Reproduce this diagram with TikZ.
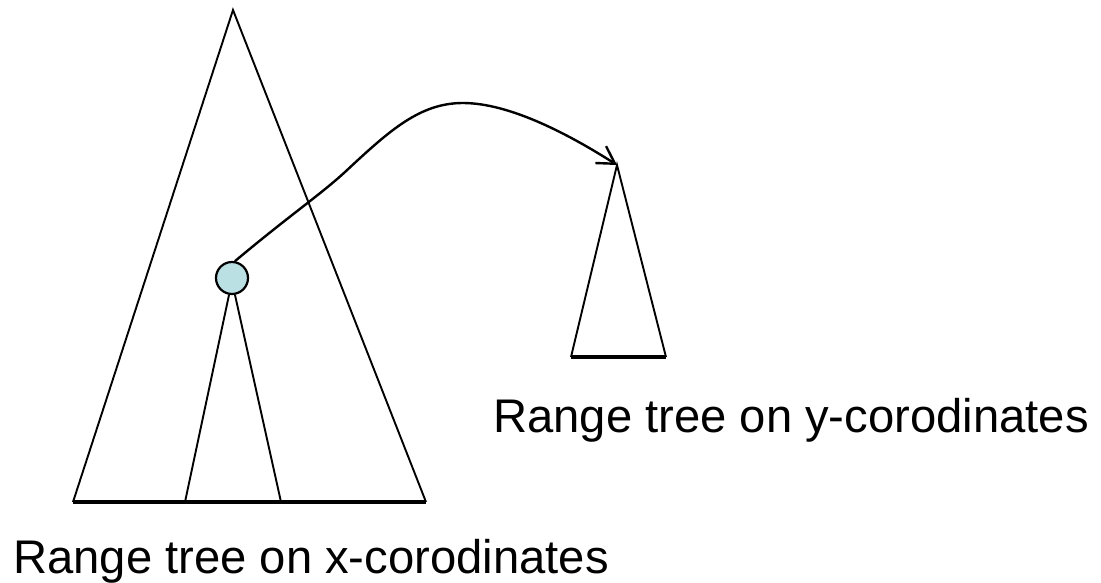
\documentclass[tikz,border=0pt]{standalone}
\usepackage{fontspec}
\setmainfont{Liberation Sans}
\usetikzlibrary{arrows.meta}
\definecolor{nodefill}{RGB}{186,224,228}
\begin{document}
\begin{tikzpicture}[x=1pt,y=-1pt,
  side/.style={line width=1.9pt},
  baseline/.style={line width=3.2pt},
  link/.style={line width=2.4pt,-{Straight Barb[length=17pt,width=20pt]}},
  treelabel/.style={anchor=base west, inner sep=0pt, font=\fontsize{47.2}{50}\selectfont},
  treenode/.style={circle, draw, fill=nodefill, minimum size=32pt, inner sep=0pt, line width=2.2pt}]
\useasboundingbox (0,0) rectangle (1101,582);
% big tree
\coordinate (A) at (233,10);
\coordinate (BL) at (73,502);
\coordinate (BR) at (426,502);
\coordinate (IL) at (185,502);
\coordinate (IR) at (281,502);
% small tree
\coordinate (S) at (617,165);
\coordinate (SL) at (571,357);
\coordinate (SR) at (666,357);
% curve waypoints
\coordinate (W1) at (345,172);
\coordinate (W2) at (463,103);

\draw[side] (BL) -- (A) -- (BR);
\draw[baseline] (BL) -- (BR);
\node[treenode] (c) at (232,278) {};
\draw[side] (c.-100) -- (IL);
\draw[side] (c.-80) -- (IR);

\draw[side] (SL) -- (S) -- (SR);
\draw[baseline] (SL) -- (SR);

\draw[link] (c.80) .. controls (290,215) and (320,195) .. (W1)
  .. controls (390,130) and (420,103) .. (W2)
  .. controls (510,103) and (570,135) .. (S);

\node[treelabel] (ylab) at (493,432) {Range tree on y-corodinates};
\node[treelabel] (xlab) at (13,573) {Range tree on x-corodinates};
\end{tikzpicture}
\end{document}
